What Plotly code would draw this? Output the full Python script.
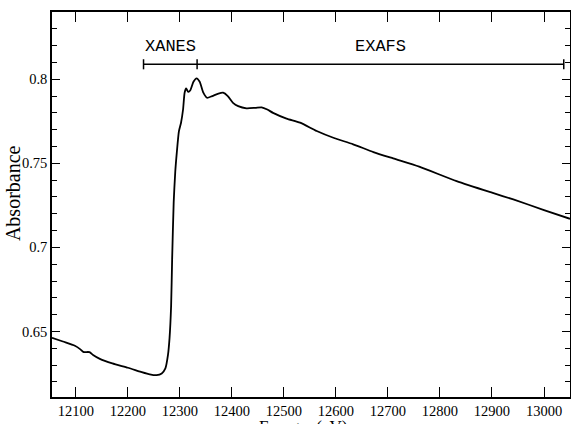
import plotly.graph_objects as go

# Spectrum data
energy = [12054, 12075, 12098, 12108, 12114, 12126, 12133, 12146, 12170, 12200,
          12225, 12242, 12255, 12265, 12272, 12277, 12280, 12283, 12285, 12288,
          12291, 12294, 12298, 12302, 12306, 12309, 12312, 12316, 12320, 12326,
          12332, 12338, 12345, 12352, 12362, 12374, 12383, 12392, 12402, 12412,
          12428, 12445, 12457, 12468, 12479, 12505, 12531, 12563, 12595, 12633,
          12672, 12710, 12760, 12832, 12900, 12941, 13000, 13050]
absorbance = [0.6462, 0.6440, 0.6415, 0.6395, 0.6378, 0.6377, 0.6360, 0.6337, 0.6310, 0.6284,
              0.6260, 0.6245, 0.6240, 0.6250, 0.6280, 0.6360, 0.6460, 0.6650, 0.6930, 0.7270,
              0.7450, 0.7565, 0.7690, 0.7740, 0.7820, 0.7920, 0.7945, 0.7925, 0.7935, 0.7985,
              0.8005, 0.7985, 0.7920, 0.7890, 0.7900, 0.7915, 0.7920, 0.7900, 0.7860, 0.7840,
              0.7827, 0.7830, 0.7833, 0.7820, 0.7800, 0.7766, 0.7742, 0.7692, 0.7652, 0.7613,
              0.7567, 0.7529, 0.7480, 0.7394, 0.7325, 0.7285, 0.7222, 0.7170]

# Region markers
region_edges = [12230, 12333, 13038]
region_labels = ["XANES", "EXAFS"]
bar_level = 0.8089
label_level = 0.8197
cap_half = 0.003

x_ticks = [12100, 12200, 12300, 12400, 12500, 12600, 12700, 12800, 12900, 13000]
x_tick_text = ["12100", "12200", "12300", "12400", "12500", "12600", "12700", "12800", "12900", "13000"]
y_ticks = [0.65, 0.7, 0.75, 0.8]
y_tick_text = ["0.65", "0.7", "0.75", "0.8"]

SERIF = "Times New Roman"
MONO = "Courier New"

fig = go.Figure()
fig.add_trace(go.Scatter(x=energy, y=absorbance, mode="lines",
                         line=dict(color="black", width=1.8, shape="spline", smoothing=0.6),
                         hoverinfo="skip", showlegend=False))

# bar across regions
fig.add_shape(type="line", x0=region_edges[0], x1=region_edges[-1], y0=bar_level, y1=bar_level,
              line=dict(color="black", width=1.5))
for e in region_edges:
    fig.add_shape(type="line", x0=e, x1=e, y0=bar_level - cap_half, y1=bar_level + cap_half,
                  line=dict(color="black", width=1.5))
for i, lab in enumerate(region_labels):
    fig.add_annotation(x=(region_edges[i] + region_edges[i + 1]) / 2, y=label_level, text=lab,
                       showarrow=False, font=dict(family=MONO, size=17, color="black"))

fig.add_annotation(xref="paper", yref="paper", x=0.485, y=-0.047, yanchor="top",
                   text="Energy&nbsp;&nbsp;(eV)", showarrow=False,
                   font=dict(family=SERIF, size=17, color="black"))
fig.add_annotation(xref="paper", yref="paper", x=-0.075, y=0.53, xanchor="center",
                   textangle=-90, text="Absorbance", showarrow=False,
                   font=dict(family=SERIF, size=20, color="black"))

fig.update_xaxes(range=[12054, 13050], tickvals=x_ticks, ticktext=x_tick_text,
                 ticks="inside", ticklen=10, automargin=False,
                 tickwidth=1.2, tickcolor="black", showline=True, linecolor="black",
                 linewidth=1.5, mirror="ticks", showgrid=False, zeroline=False,
                 tickfont=dict(family=SERIF, size=14.5, color="black"))
fig.update_yaxes(range=[0.611, 0.840], tickvals=y_ticks, ticktext=y_tick_text,
                 ticks="inside", ticklen=8, tickwidth=1.2, tickcolor="black", automargin=False,
                 minor=dict(dtick=0.01, tick0=0.6, ticks="inside", ticklen=5, tickcolor="black"),
                 showline=True, linecolor="black", linewidth=1.5, mirror="ticks",
                 showgrid=False, zeroline=False,
                 tickfont=dict(family=SERIF, size=14.5, color="black"))

fig.update_layout(width=571, height=424, margin=dict(l=52, r=1, t=12, b=27),
                  font=dict(family=SERIF, color="black"),
                  plot_bgcolor="white", paper_bgcolor="white")
fig.write_html("out.html", config={"displayModeBar": False},
               post_script="document.body.style.margin='0';document.body.style.overflow='hidden';")
